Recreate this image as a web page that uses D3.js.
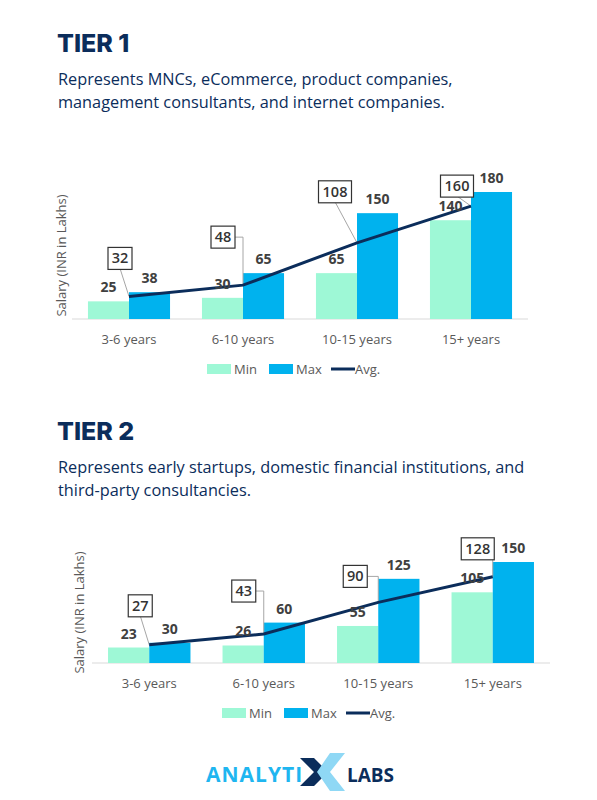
<!doctype html>
<html lang="en">
<head>
<meta charset="utf-8">
<script src="https://d3js.org/d3.v7.min.js"></script>
<style>
  body { margin: 0; background: #fff; }
  text { font-family: "Open Sans", sans-serif; }
  .ttl { font-family: Inter, "Noto Sans", sans-serif; font-weight: 800; }
</style>
</head>
<body>
<svg id="chart" width="597" height="800"></svg>
<script>
var categories = ["3-6 years", "6-10 years", "10-15 years", "15+ years"];
var tier1Min = [25, 30, 65, 140];
var tier1Max = [38, 65, 150, 180];
var tier1Avg = [32, 48, 108, 160];
var tier2Min = [23, 26, 55, 105];
var tier2Max = [30, 60, 125, 150];
var tier2Avg = [27, 43, 90, 128];

var svg = d3.select("#chart");
var navy = "#0b2d5b", cMin = "#9ef8d6", cMax = "#00b2ee";

function drawTitle(y, title, lines) {
  svg.append("text").attr("class", "ttl").attr("x", 57).attr("y", y)
    .attr("font-size", 25).attr("fill", navy).text(title);
  lines.forEach(function (l, i) {
    svg.append("text").attr("x", 58).attr("y", y + 33 + i * 23)
      .attr("font-size", 16.3).attr("fill", navy).attr("font-family", "Poppins, 'Noto Sans', sans-serif").text(l);
  });
}

// boxes: offset of the label box from the avg point
function drawTier(opt) {
  var x = d3.scaleBand().domain(categories).range([opt.x0, opt.x1]).paddingInner(0.28).paddingOuter(0.14);
  var y = d3.scaleLinear().domain([0, opt.vmax]).range([opt.base, opt.top]);
  var g = svg.append("g");
  var bw = x.bandwidth() / 2;

  g.append("line").attr("x1", opt.x0).attr("x2", opt.x1).attr("y1", opt.base).attr("y2", opt.base)
    .attr("stroke", "#d9d9d9");

  g.selectAll(".mn").data(opt.min).enter().append("rect")
    .attr("x", function (d, i) { return x(categories[i]); })
    .attr("y", function (d) { return y(d); }).attr("width", bw)
    .attr("height", function (d) { return opt.base - y(d); }).attr("fill", cMin);
  g.selectAll(".mx").data(opt.max).enter().append("rect")
    .attr("x", function (d, i) { return x(categories[i]) + bw; })
    .attr("y", function (d) { return y(d); }).attr("width", bw)
    .attr("height", function (d) { return opt.base - y(d); }).attr("fill", cMax);

  var cx = function (i) { return x(categories[i]) + bw; };

  // leader lines + boxes
  opt.avg.forEach(function (d, i) {
    var px = cx(i), py = y(d), o = opt.boxes[i];
    var bx = px + o[0], by = py + o[1];
    g.append("polyline").attr("fill", "none").attr("stroke", "#a6a6a6")
      .attr("points", o[2] ? [[bx + 12, by], [px, by], [px, py]].join(" ") : [[bx, by + 10], [px, py]].join(" "));
  });

  g.append("path").datum(opt.avg).attr("fill", "none").attr("stroke", navy).attr("stroke-width", 3)
    .attr("d", d3.line().x(function (d, i) { return cx(i); }).y(function (d) { return y(d); }));

  opt.avg.forEach(function (d, i) {
    var px = cx(i), py = y(d), o = opt.boxes[i];
    var bx = px + o[0], by = py + o[1];
    var w = String(d).length * 9 + 6;
    g.append("rect").attr("x", bx - w / 2).attr("y", by - 11).attr("width", w).attr("height", 22)
      .attr("fill", "#fff").attr("stroke", "#333").attr("stroke-width", 1.2);
    g.append("text").attr("x", bx).attr("y", by + 5).attr("text-anchor", "middle")
      .attr("font-size", 14.5).attr("font-weight", 600).attr("fill", "#333").text(d);
  });

  function vlabel(arr, off) {
    g.selectAll(null).data(arr).enter().append("text")
      .attr("x", function (d, i) { return x(categories[i]) + off + bw / 2; })
      .attr("y", function (d) { return y(d) - 9; }).attr("text-anchor", "middle")
      .attr("font-size", 14).attr("font-weight", 700).attr("fill", "#404040").text(function (d) { return d; });
  }
  vlabel(opt.min, 0);
  vlabel(opt.max, bw);

  g.selectAll(null).data(categories).enter().append("text")
    .attr("x", function (d) { return x(d) + bw; }).attr("y", opt.base + 25)
    .attr("text-anchor", "middle").attr("font-size", 13).attr("fill", "#595959").text(function (d) { return d; });

  g.append("text").attr("transform", "translate(" + opt.ylx + "," + (opt.base + opt.top) / 2 + ") rotate(-90)")
    .attr("text-anchor", "middle").attr("font-size", 13).attr("fill", "#595959").text("Salary (INR in Lakhs)");

  var ly = opt.base + 50, lx = opt.legX;
  g.append("rect").attr("x", lx).attr("y", ly - 5).attr("width", 24).attr("height", 10).attr("fill", cMin);
  g.append("text").attr("x", lx + 27).attr("y", ly + 5).attr("font-size", 13).attr("fill", "#595959").text("Min");
  g.append("rect").attr("x", lx + 62).attr("y", ly - 5).attr("width", 24).attr("height", 10).attr("fill", cMax);
  g.append("text").attr("x", lx + 89).attr("y", ly + 5).attr("font-size", 13).attr("fill", "#595959").text("Max");
  g.append("line").attr("x1", lx + 124).attr("x2", lx + 148).attr("y1", ly).attr("y2", ly).attr("stroke", navy).attr("stroke-width", 3);
  g.append("text").attr("x", lx + 148).attr("y", ly + 5).attr("font-size", 13).attr("fill", "#595959").text("Avg.");
}

drawTitle(52, "TIER 1", ["Represents MNCs, eCommerce, product companies,", "management consultants, and internet companies."]);
drawTier({ x0: 72, x1: 528, base: 319, top: 192, vmax: 180, ylx: 66, legX: 207,
  min: tier1Min, max: tier1Max, avg: tier1Avg,
  boxes: [[-9, -38, false], [-20, -48, true], [-22, -51, false], [-14, -20, false]] });

drawTitle(440, "TIER 2", ["Represents early startups, domestic financial institutions, and", "third-party consultancies."]);
drawTier({ x0: 92, x1: 550, base: 663, top: 562, vmax: 150, ylx: 84, legX: 222,
  min: tier2Min, max: tier2Max, avg: tier2Avg,
  boxes: [[-9, -39, false], [-20, -43, true], [-23, -26, true], [-15, -28, true]] });

// logo
var lg = svg.append("g");
lg.append("text").attr("x", 206).attr("y", 782).attr("font-family", "Inter, sans-serif").attr("font-weight", 700)
  .attr("font-size", 21).attr("fill", "#1fb6f0").attr("letter-spacing", 1).text("ANALYTI");
lg.append("path").attr("d", "M300,758 L314,758 L328,772 L314,786 L300,786 L314,772 Z").attr("fill", navy);
lg.append("path").attr("d", "M330,753 L345,753 L330,772 L345,791 L330,791 L317,772 Z").attr("fill", "#8fd8f5");
lg.append("text").attr("x", 347).attr("y", 782).attr("font-family", "Inter, sans-serif").attr("font-weight", 700)
  .attr("font-size", 19).attr("fill", navy).text("LABS");
</script>
</body>
</html>
